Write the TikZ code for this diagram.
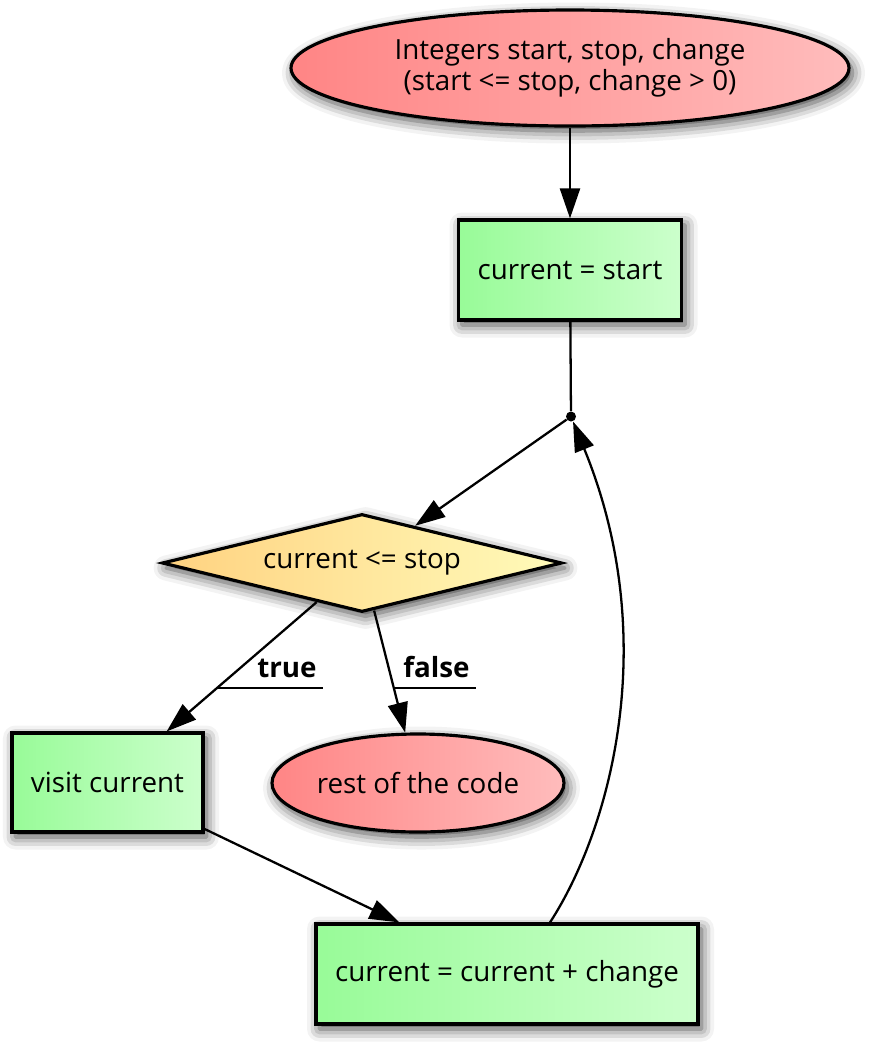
\documentclass[tikz,border=0pt]{standalone}
\usepackage{fontspec}
\setmainfont{Open Sans}
\usetikzlibrary{%
		arrows.meta%
		,shapes.geometric%
		,shadows.blur%
	}
\definecolor{redl}{HTML}{FF8585}
\definecolor{redr}{HTML}{FFBCBC}
\definecolor{grnl}{HTML}{98FB98}
\definecolor{grnr}{HTML}{CCFFCC}
\definecolor{ylwl}{HTML}{FFD280}
\definecolor{ylwr}{HTML}{FFFBBA}

\begin{document}
\begin{tikzpicture}[
		font=\fontsize{15.8}{17.6}\selectfont,
		shd/.style={blur shadow={shadow xshift=0.07cm, shadow yshift=-0.1cm, shadow blur radius=0.25cm, shadow opacity=75}},
		box/.style={draw, line width=1.8pt, rectangle, left color=grnl, right color=grnr, minimum height=2cm, shd},
		oval/.style={draw, line width=1.8pt, ellipse, left color=redl, right color=redr, inner sep=0pt, align=center, shd},
		test/.style={draw, line width=1.8pt, diamond, aspect=4, inner sep=0pt, left color=ylwl, right color=ylwr, shd},
		flow/.style={line width=1.3pt, -{Triangle[length=0.6cm, width=0.4cm]}},
		edgelbl/.style={font=\fontsize{15.8}{17.6}\selectfont\bfseries, anchor=south east, inner xsep=0.12cm, inner ysep=0.2cm, text depth=0pt, align=right}
	]
	\useasboundingbox (0,0) rectangle (17.5,-21);

	% Nodes
	\node[oval, minimum width=11.16cm, minimum height=2.32cm] (init) at (11.4,-1.36) {Integers start, stop, change\\(start <= stop, change > 0)};
	\node[box, minimum width=4.46cm] (start) at (11.4,-5.4) {current = start};
	\node[circle, fill=black, inner sep=0pt, minimum size=0.2cm] (join) at (11.42,-8.33) {};
	\node[test, minimum width=8cm, minimum height=1.96cm] (cond) at (7.24,-11.26) {current <= stop};
	\node[box, minimum width=3.82cm, minimum height=1.98cm] (visit) at (2.15,-15.65) {visit current};
	\node[oval, minimum width=5.84cm, minimum height=1.96cm] (rest) at (8.36,-15.66) {rest of the code};
	\node[box, minimum width=7.64cm] (upd) at (10.14,-19.48) {current = current + change};

	% Edges
	\draw[flow] (init) -- (start);
	\draw[line width=1.3pt] (start) -- (join);
	\draw[flow] (join) -- (cond);
	\draw[flow] (cond) -- (visit);
	\draw[flow] (cond) -- (rest);
	\draw[flow] (visit) -- (upd);
	\draw[flow] ([xshift=0.86cm]upd.north) .. controls (12.2,-16.6) and (13.25,-12.8) .. (join);

	% Labels
	\node[edgelbl, text width=1.86cm] (ltrue) at (6.46,-13.76) {true};
	\draw[line width=1.3pt] (ltrue.south west) -- (ltrue.south east);
	\node[edgelbl, text width=1.36cm] (lfalse) at (9.52,-13.76) {false};
	\draw[line width=1.3pt] (lfalse.south west) -- (lfalse.south east);
\end{tikzpicture}
\end{document}
